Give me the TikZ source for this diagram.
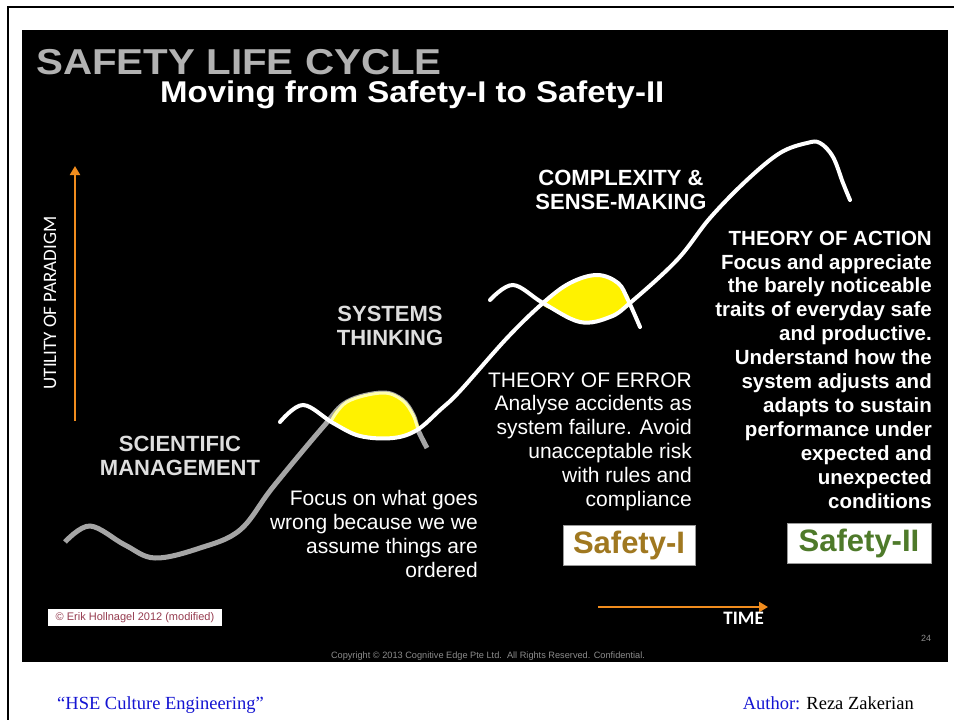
\documentclass[tikz,border=0pt]{standalone}
\usepackage{fontspec}
\setmainfont{Liberation Sans}
\newfontfamily\serifface{Liberation Serif}
\newfontfamily\condface{Carlito}
\newfontfamily\wideface[FakeStretch=1.12]{Liberation Sans}
\newfontfamily\subface[FakeStretch=1.1]{Liberation Sans}
\usetikzlibrary{arrows.meta}

\definecolor{headgray}{RGB}{178,178,178}
\definecolor{lblgray}{RGB}{222,222,222}
\definecolor{curvegray}{RGB}{165,165,165}
\definecolor{axisorange}{RGB}{240,140,30}
\definecolor{rimyellow}{RGB}{255,255,175}
\definecolor{safetyone}{RGB}{160,120,32}
\definecolor{safetytwo}{RGB}{78,122,42}
\definecolor{footblue}{RGB}{20,20,210}
\definecolor{creditred}{RGB}{150,60,80}

\begin{document}
\begin{tikzpicture}[
                x=1pt,y=-1pt,
                stage/.style={lblgray,font=\bfseries\fontsize{22}{23.5}\selectfont,align=center,anchor=base,inner sep=0},
                story/.style={white,font=\fontsize{21}{23.8}\selectfont,align=right,anchor=base east,inner sep=0},
                tag/.style={draw=black!40,fill=white,minimum height=40,inner sep=0,font=\bfseries\fontsize{31}{31}\selectfont},
                axisarrow/.style={draw=axisorange,line width=2pt,-{Triangle[length=9pt,width=10pt]}},
                whitecurve/.style={white,line width=4pt,line cap=round},
                graycurve/.style={curvegray,line width=5pt,line cap=butt}] %

\useasboundingbox (0,0) rectangle (954,720);
\fill[white] (0,0) rectangle (954,720);
\draw[line width=2pt] (8,720) -- (8,7) -- (954,7);

% slide
\fill[black] (22,30) rectangle (948,662);

\node[anchor=base west,inner sep=0,text=headgray,font=\wideface\bfseries\fontsize{36}{36}\selectfont] (title) at (36,74) {SAFETY LIFE CYCLE};
\node[anchor=base west,inner sep=0,text=white,font=\subface\bfseries\fontsize{30}{30}\selectfont] (subtitle) at (160,102) {Moving from Safety-I to Safety-II};

% axes
\coordinate (utilFoot) at (75,421);
\coordinate (utilHead) at (75,166);
\draw[axisarrow] (utilFoot) -- (utilHead);
\node[rotate=90,white,inner sep=0,font=\condface\fontsize{19}{19}\selectfont] (utility) at (50,303) {UTILITY OF PARADIGM};

\coordinate (timeFoot) at (598,607);
\coordinate (timeHead) at (768,607);
\draw[axisarrow] (timeFoot) -- (timeHead);
\node[anchor=base east,white,inner sep=0,font=\condface\bfseries\fontsize{19}{19}\selectfont] (time) at (764,624) {TIME};

% curve 1 (grey)
\draw[graycurve] plot[smooth,tension=0.6] coordinates {(65,542) (90,526) (125,545) (155,558) (200,548) (240,530) (273,487) (323,427) (347,402) (382,393) (402,400) (413,415) (418,430) (427,448)};
\fill[yellow] plot[smooth cycle,tension=0.6] coordinates {(332,421) (347,402) (382,393) (402,400) (413,415) (418,430) (393,438) (360,436)};
\draw[rimyellow,line width=3pt] plot[smooth,tension=0.6] coordinates {(330,423) (347,402) (382,393) (402,400) (413,415) (418,430)};

% curve 2
\fill[yellow] plot[smooth cycle,tension=0.6] coordinates {(543,303) (570,284) (597,275) (618,283) (630,303) (610,317) (580,322) (560,313)};
\draw[whitecurve] plot[smooth,tension=0.6] coordinates {(280,422) (303,405) (333,423) (360,436) (393,438) (417,430) (440,410) (460,391) (507,338) (543,303) (570,283) (597,275) (618,283) (628,300) (640,327)};

% curve 3
\draw[whitecurve] plot[smooth,tension=0.6] coordinates {(490,300) (513,285) (543,303) (580,322) (610,317) (630,303) (677,260) (710,218) (747,180) (780,153) (807,143) (820,143) (833,157) (843,183) (850,200)};

% stages
\node[stage] (scientific) at (180,475) {SCIENTIFIC\\MANAGEMENT};
\node[stage] (systems) at (390,345) {SYSTEMS\\THINKING};
\node[stage,white] (complexity) at (621,209) {COMPLEXITY \&\\SENSE-MAKING};

% texts
\node[story] (ordered) at (478,577) {Focus on what goes\\wrong because we we\\assume things are\\ordered};
\node[story] (error) at (692,506) {THEORY OF ERROR\\Analyse accidents as\\system failure. Avoid\\unacceptable risk\\with rules and\\compliance};
\node[story,font=\bfseries\fontsize{20.5}{23.9}\selectfont] (action) at (932,508) {THEORY OF ACTION\\Focus and appreciate\\the barely noticeable\\traits of everyday safe\\and productive.\\Understand how the\\system adjusts and\\adapts to sustain\\performance under\\expected and\\unexpected\\conditions};

\node[tag,minimum width=132,text=safetyone] (safetyI) at (629,545) {Safety-I};
\node[tag,minimum width=144,text=safetytwo] (safetyII) at (859,543.5) {Safety-II};

% credits
\node[fill=white,minimum width=174,minimum height=17,inner sep=0,text=creditred,font=\fontsize{11}{11}\selectfont] (credit) at (135,617.5) {\copyright{} Erik Hollnagel 2012 (modified)};
\node[black!45,inner sep=0,font=\fontsize{9.2}{9.2}\selectfont,anchor=base] (copyright) at (488,658) {Copyright \copyright{} 2013 Cognitive Edge Pte Ltd.\ \ All Rights Reserved. Confidential.};
\node[black!45,inner sep=0,font=\fontsize{9}{9}\selectfont,anchor=base] (page) at (926,641) {24};

% footer
\node[anchor=base west,inner sep=0,text=footblue,font=\serifface\fontsize{18.5}{18.5}\selectfont] (course) at (57,709) {“HSE Culture Engineering”};
\node[anchor=base east,inner sep=0,font=\serifface\fontsize{18.5}{18.5}\selectfont] (author) at (914,709) {\textcolor{footblue}{Author:} Reza Zakerian};

\end{tikzpicture}
\end{document}
